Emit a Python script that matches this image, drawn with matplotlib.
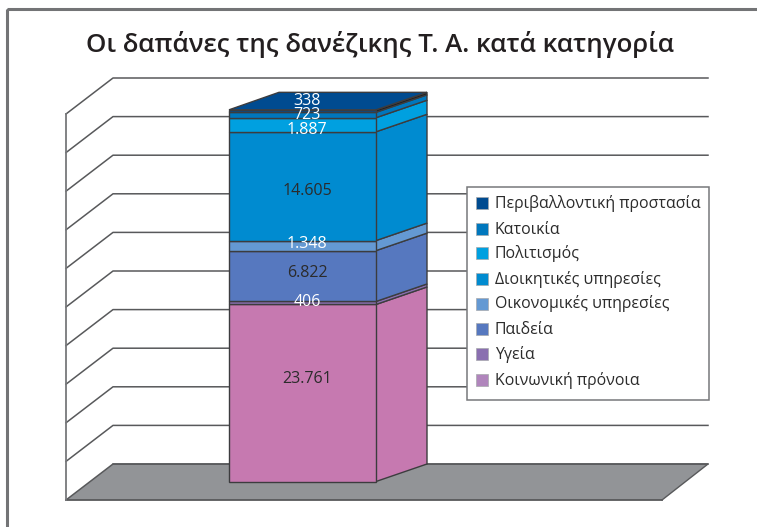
import matplotlib
matplotlib.use("Agg")
import matplotlib.pyplot as plt
from matplotlib.patches import Polygon, Rectangle

plt.rcParams['font.family'] = ['Open Sans', 'Noto Sans', 'DejaVu Sans']

categorias = ["Κοινωνική πρόνοια", "Υγεία", "Παιδεία", "Οικονομικές υπηρεσίες",
              "Διοικητικές υπηρεσίες", "Πολιτισμός", "Κατοικία", "Περιβαλλοντική προστασία"]
valores = [23761, 406, 6822, 1348, 14605, 1887, 723, 338]
etiquetas = ["23.761", "406", "6.822", "1.348", "14.605", "1.887", "723", "338"]
color_etiqueta = ["#2b2b2b", "white", "#2b2b2b", "white", "#2b2b2b", "white", "white", "white"]
colores = ["#c679b0", "#8a6fb0", "#5678bf", "#6499d3", "#008bd0", "#00a0e0", "#0077bd", "#004b90"]
colores_lateral = ["#c679b0", "#8a6fb0", "#5678bf", "#6499d3", "#008bd0", "#00a0e0", "#0077bd", "#23201f"]
colores_leyenda = ["#b085bc", "#8a6fb0", "#5678bf", "#6499d3", "#008bd0", "#00a0e0", "#0077bd", "#004b90"]
titulo = "Οι δαπάνες της δανέζικης Τ. Α. κατά κατηγορία"
niveles_rejilla = list(range(11))

PX_POR_UNIDAD = 0.00745
Y0, X0, X1 = 481.5, 229, 376
DX, DY = 51, 17.5

fig = plt.figure(figsize=(7.57, 5.27), dpi=100)
ax = fig.add_axes([0, 0, 1, 1])
ax.set_xlim(0, 757)
ax.set_ylim(527, 0)
ax.axis("off")

# Marco
ax.add_patch(Rectangle((7, 9), 780, 560, fill=False, ec="#737476", lw=2.2))

# Piso
ax.add_patch(Polygon([(66, 500), (113, 464), (708, 464), (662, 500)], fc="#929497", ec="none", zorder=1))
ax.plot([113, 708, 662], [464, 464, 500], color="#58595b", lw=1, zorder=1.5)
ax.plot([66, 662], [500, 500], color="#58595b", lw=1.3, zorder=1.5)

# Rejilla
for n in niveles_rejilla:
    y = 464 - n * 38.6
    ax.plot([66, 113, 708], [y + 36, y, y], color="#58595b", lw=1.1, zorder=2)
ax.plot([66, 66], [500, 78 + 36], color="#77787b", lw=1.3, zorder=2)

# Barra apilada
base = 0
for v, c, cl in zip(valores, colores, colores_lateral):
    y_ini = Y0 - base * PX_POR_UNIDAD
    y_fin = Y0 - (base + v) * PX_POR_UNIDAD
    ax.add_patch(Polygon([(X1, y_ini), (X1 + DX, y_ini - DY), (X1 + DX, y_fin - DY), (X1, y_fin)],
                         fc=cl if v < 400 else c, ec="#3c3c3e", lw=1, zorder=3))
    ax.add_patch(Rectangle((X0, y_fin), X1 - X0, y_ini - y_fin, fc=c, ec="#3c3c3e", lw=1, zorder=3))
    base += v
y_top = Y0 - base * PX_POR_UNIDAD
ax.add_patch(Polygon([(X0, y_top), (X0 + DX - 1, y_top - DY), (X1 + DX, y_top - DY), (X1, y_top)],
                     fc=colores[-1], ec="#3c3c3e", lw=1, zorder=3))

# Etiquetas
base = 0
ajuste = [-14, -1, -3, -2, 5, 5.7, -0.5, -10]
for v, e, c, a in zip(valores, etiquetas, color_etiqueta, ajuste):
    y = Y0 - (base + v / 2) * PX_POR_UNIDAD + a
    ax.text(307, y, e, color=c, fontsize=11.5, ha="center", va="center", zorder=4)
    base += v

# Leyenda
ax.add_patch(Rectangle((467, 187), 242, 213, fc="white", ec="#77787b", lw=1.1, zorder=5))
y_leyenda = [380, 354, 329, 303.5, 279, 253, 228.5, 203]
for cat, c, y in zip(categorias, colores_leyenda, y_leyenda):
    ax.add_patch(Rectangle((476, y - 6), 12, 12, fc=c, ec="#a7a9ac", lw=0.5, zorder=6))
    ax.text(495, y + 5, cat, color="#2b2b2b", fontsize=11.4, va="baseline", zorder=6)

# Titulo
ax.text(380, 44, titulo, color="#231f20", fontsize=18.6, fontweight="semibold", ha="center", va="center")

fig.savefig("out.png", dpi=100)
